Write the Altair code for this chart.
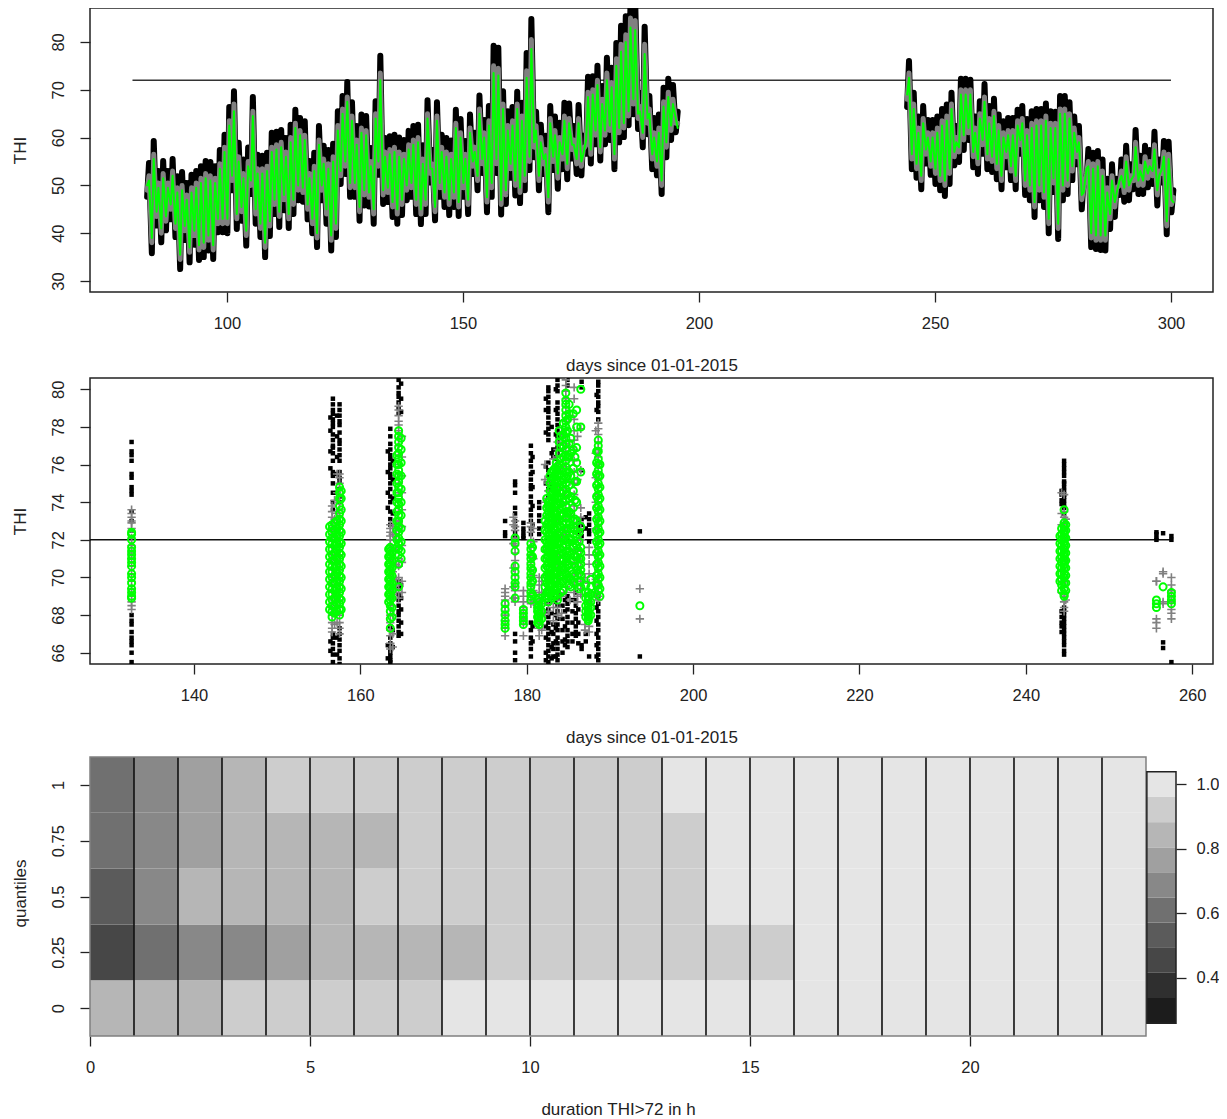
import altair as alt
import pandas as pd

FONT = "Liberation Sans"
INK = "#222222"
GREEN = "#00ff00"
GREY = "#808080"
THRESHOLD = 72

# ---------- panel 1: daily lows and highs ----------
days_a = list(range(83, 196))
days_b = list(range(244, 301))

black_hi_a = [54.7,59.3,53,55.1,53,55.5,51.9,52.8,50.5,52.2,
              53,54,55.1,54.9,54,57.4,60.6,66.4,69.7,58.9,
              55.4,57.9,68.5,56.4,56.2,56.8,61,61.2,61.6,59.9,
              62.7,65.8,64.1,63.4,55.1,56.8,62.4,58.3,57.4,58.7,
              65.5,68.7,71.6,67.4,62.4,64.8,64.5,57.8,67.6,77.1,
              59.9,60.3,60.6,60,59.5,61.4,62.4,62.7,58.4,67.8,
              57.4,67.4,60.6,59.9,59.4,65.8,63.9,59.3,64.8,61,
              68.8,63.7,66.6,79.2,78.8,69.7,65.5,66.4,69.6,67.3,
              77.7,84.8,65.4,62.7,60.4,66.6,64.4,63.1,67.3,67.1,
              62.4,66.8,60.4,72.7,72.8,75,70.8,76.7,74.6,79.8,
              83.4,85.4,88.4,88.4,69.4,83.2,68.7,64.1,64.8,70.4,
              72.3,71,65.4]
black_lo_a = [47.6,35.8,41.6,38.1,40.6,42.9,39.2,32.5,38.6,33.9,
              37.6,34.4,35,36.4,34.6,40.2,40.2,40,49,40.9,
              42.6,37.4,48.2,42,39.2,35,39.4,44,41.3,44.8,
              41.1,44,46.9,46.6,42.9,40,37.1,46.9,42,36.4,
              39.2,50.3,52.4,47.6,47.6,42.6,45.8,45.6,42,52.2,
              46.1,46.5,43.4,42,43.8,46.9,47.6,44,41.9,44,
              50.6,42.7,47.6,45.5,43.8,45.5,43.6,47.6,44,52.4,
              49,52.6,44.4,47.6,52.6,43.9,46.1,51.6,47.9,46.3,
              49,53.2,55.9,49,52.4,44.4,53.2,49.3,53.4,51.3,
              55.6,52.4,52.1,56.6,54.6,58.6,55.2,58.6,59.5,53.4,
              59,60.1,62.6,64.9,61.8,58,60.7,53.4,52.1,48.2,
              55.9,59.5,61.1]
grey_hi_a = [52,56.5,50.5,52.5,50.5,53,49.5,50,48,49.5,
             50.5,51.5,52.5,52,51.5,54.5,58,63.5,67,56,
             52.5,55,65.5,53.5,53.5,54,58,58.5,59,57,
             60,63,61.5,60.5,52.5,54,59.5,55.5,54.5,56,
             62.5,66,68.5,64.5,59.5,62,61.5,55,65,73.5,
             57,57.5,58,57,56.5,58.5,59.5,60,55.5,65,
             54.5,64.5,58,57,56.5,63,61,56.5,62,58,
             66,61,63.5,75,74.5,67,62.5,63.5,67,64.5,
             74,80.5,62.5,60,57.5,64,61.5,60,64.5,64,
             59.5,64,57.5,69.5,70,72,68,73.5,71.5,76.5,
             79.5,81.5,85,84.5,66.5,79.5,66,61,62,67.5,
             69.5,68,63]
grey_lo_a = [49,38,43.5,40,42.5,45,41,34.5,40.5,36,
             39.5,36.5,37,38.5,36.5,42,42,42,51,43,
             44.5,39.5,50,44,41,37,41.5,46,43.5,47,
             43,46,49,48.5,45,42,39,49,44,38.5,
             41,52,54,49.5,49.5,44.5,48,47.5,44,54,
             48,48.5,45.5,44,46,49,49.5,46,44,46,
             52.5,44.5,49.5,47.5,46,47.5,45.5,49.5,46,54,
             51,54.5,46.5,49.5,54.5,46,48,53.5,50,48.5,
             51,55,58,51,54.5,46.5,55,51.5,55.5,53.5,
             57.5,54.5,54,58.5,56.5,60.5,57,60.5,61.5,55.5,
             61,62,64.5,67,64,60,63,55.5,54,50,
             58,61.5,63]
green_hi_a = [51,55.5,49.5,51.5,49.5,52,48.5,49,47,48.5,
              49.5,50.5,51.5,51,50.5,53.5,57,62.5,65.5,55,
              51.5,54,64.5,52.5,52.5,53,57,57.5,58,56,
              59,62,60.5,59.5,51.5,53,58.5,54.5,53.5,55,
              61.5,65,67.5,63.5,58.5,61,60.5,54,64,72,
              56,56.5,57,56,55.5,57.5,58.5,59,54.5,64,
              53.5,63.5,57,56,55.5,62,60,55.5,61,57,
              65,60,62.5,73.5,73,66,61.5,62.5,66,63.5,
              72.5,78.5,61.5,59,56.5,63,60.5,59,63.5,63,
              58.5,63,56.5,68.5,69,71,67,72,70.5,75,
              78,80,83,82.5,65.5,77.5,65,60,61,66.5,
              68.5,67,62]
green_lo_a = [50,39,44.5,41,43.5,46,42,35.5,41.5,37,
              40.5,37.5,38,39.5,37.5,43,43,43,52,44,
              45.5,40.5,51,45,42,38,42.5,47,44.5,48,
              44,47,50,49.5,46,43,40,50,45,39.5,
              42,53,55,50.5,50.5,45.5,49,48.5,45,55,
              49,49.5,46.5,45,47,50,50.5,47,45,47,
              53.5,45.5,50.5,48.5,47,48.5,46.5,50.5,47,55,
              52,55.5,47.5,50.5,55.5,47,49,54.5,51,49.5,
              52,56,59,52,55.5,47.5,56,52.5,56.5,54.5,
              58.5,55.5,55,59.5,57.5,61.5,58,61.5,62.5,56.5,
              62,63,65.5,68,65,61,64,56.5,55,51,
              59,62.5,64]

black_hi_b = [76,69.4,64.4,66.6,63.7,63.7,64.4,66,66.9,69.4,
              62.4,72.3,72.3,72.1,64.4,67.6,71.2,66.6,68.1,64.8,
              63.4,64.1,64.1,65.8,66.6,63.9,65.5,66,66,67.1,
              65.5,65.4,68.7,68.7,67.4,64.4,62.4,51.4,57.6,56.8,
              57.2,55.4,51.4,54.4,51.4,55.4,58.3,54.4,61.6,56.2,
              58.3,57.4,61.2,55.4,59.3,59.1,49]
black_lo_b = [66.4,53.4,51.6,49.2,54.6,52.2,50.3,49,47.8,50.3,
              54.2,54.9,57.4,59.5,53.8,52.4,56.6,53.4,52.8,51.3,
              49.2,53.8,51.1,49.2,56.6,48,46.9,43.4,46.9,45.5,
              40,48.6,38.8,46.9,48.2,51.1,54.4,45,50.6,37.1,
              36.7,36.5,36.4,40.9,43.4,48,46.6,46.9,49.2,48.2,
              48.2,49.6,50.3,45.8,50.6,39.8,44.4]
grey_hi_b = [73.5,67,62,64,61,61,62,63.5,64.5,67,
             60,70,70,70,62,65,68.5,64,65.5,62.5,
             61,61.5,61.5,63.5,64,61.5,63,63.5,63.5,64.5,
             63,63,66,66,65,62,60,49.5,55,54.5,
             55,53,49.5,52,49.5,53,56,52,59,54,
             56,55,58.5,53,57,56.5,47.5]
grey_lo_b = [68,55.5,53.5,51,56.5,54,52.5,51,50,52.5,
             56,57,59.5,61,56,54.5,58.5,55.5,55,53.5,
             51,56,53,51,58.5,50,49,45.5,49,47.5,
             42,50.5,41,49,50,53,56,47,52.5,39,
             38.5,38.5,38.5,43,45.5,50,48.5,49,51,50,
             50,51.5,52,48,52.5,41.5,46]
green_hi_b = [72.5,66,61,63,60,60,61,62.5,63.5,66,
              59,69,69,69,61,64,67.5,63,64.5,61.5,
              60,60.5,60.5,62.5,63,60.5,62,62.5,62.5,63.5,
              62,62,65,65,64,61,59,48.5,54,53.5,
              54,52,48.5,51,48.5,52,55,51,58,53,
              55,54,57.5,52,56,55.5,46.5]
green_lo_b = [69,56.5,54.5,52,57.5,55,53.5,52,51,53.5,
              57,58,60.5,62,57,55.5,59.5,56.5,56,54.5,
              52,57,54,52,59.5,51,50,46.5,50,48.5,
              43,51.5,42,50,51,54,57,48,53.5,40,
              39.5,39.5,39.5,44,46.5,51,49.5,50,52,51,
              51,52.5,53,49,53.5,42.5,47]

# ---------- panel 2: hours around the threshold ----------
black_days = [132.5,156.7,157.5,163.6,164.6,177.4,178.6,179.6,180.5,181.5,182.6,183.2,183.7,184.3,
              184.9,185.9,186.6,187.5,188.6,193.6,244.3,244.6,255.7,256.5,257.5,
              156.4,157.2,163.3,163.9,164.9,180.7,182.3,183,183.5,184.6,185.5,186.2,187.1,188.4]
black_vals = [
 [77.2,76.7,76.5,76.2,75.5,75.3,74.8,74.6,74.4,73.5,73,72.5,68,67.7,67.5,67.1,66.8,66.6,66.4,66,65.5],
 [79.5,79.2,78.9,78.7,78.4,78.2,78,77.6,77.3,77,76.9,76.6,76.2,75.6,75.4,75,74.5,74,73.6,67,66.8,66.5,66.2,65.9,65.5],
 [79.2,78.9,78.6,78.3,78.1,77.7,77.3,77.1,76.8,76.5,76.2,75.6,75.3,75.1,74.7,74.3,74,67.3,67,66.7,66.4,66.1,65.7,65.4],
 [77.9,77.5,77.1,76.8,76.5,76.3,76,75.8,75.5,75.3,75,74.7,74.3,74,73.5,73.1,72.8,67.4,66.8,66.5,66.2,66,65.8,65.6,65.5],
 [80.5,80.1,79.8,79.6,79.3,79,78.7,69.8,69.4,69.1,68.8,68.5,68.2,68,67.7,67.4,67.1,66.9],
 [73,72.4,72.2],
 [75.1,74.9,74.5,73.7,73.4,73,72.7,72.4,72.2,67,66.6,66,65.6],
 [72.9,72.6,72.4,72.2,72.1],
 [77,76.6,76.2,75.9,75.5,75.2,74.9,74.7,74.3,74,73.6,73.3,73,72.6,72.3,67.6,67.2,66.8,66.5,66.2,65.8],
 [74,73.7,73.3,73,72.6,72.3],
 [80.1,79.9,79.6,79.3,79,78.8,78.5,78.2,77.9,77.6,77.3,76.1,75.7,75.4,75,74.7,74.3,68.6,68.3,67.9,67.6,67.3,67,66.7,66.4,66.1,65.8,65.5],
 [76.8,76.4,67.5,67,66.5,66.2,65.8],
 [80.5,80.2,79.9,79.3,79,78.7,78.4,78.1,77.8,77.5,77.2,76.9,76.6,69.2,68.9,68.5,68.2,67.8,67.5,67.2,66.8,66.5,66.2,65.9,65.6],
 [68.5,67.8,67.2,66.6,66],
 [80.5,80.2,69,68.6,68.3,67.9,67.6,67.2,66.9,66.6,66.3],
 [69.2,68.8,68.5,68.1,67.8,67.4,67.1,66.9],
 [80.4,80.1,75.7,73.1,72.8,72.5,72.2,66.4,66.2],
 [73.4,73.1,72.8,72.5,72.3,71.9,65.8],
 [80.4,80.2,79.9,79.6,79.3,79.1,78.8,78.4,69,68.6,68.2,67.9,67.5,67.2,66.8,66.5,66.2,65.9,65.6],
 [72.45,65.8],
 [74.6,74.4,74.1,73.9,68.2,67.9,67.6,67.4,67.1],
 [76.2,76,75.8,75.6,75.4,75.1,75,74.8,74.6,74.4,74.3,74.1,73.9,73.7,73.4,68.4,68.2,68,67.8,67.6,67.4,67.2,67,66.8,66.6,66.4,66.1,65.9],
 [72.4,72.3,72.1,72],
 [72.35,66.55,66.25],
 [72.2,72,65.5],
 [78.5,77.8,76.7,75.8,66.6,66.1],
 [78.6,77.5,76.4,75.5,74.5,66.8,65.9],
 [76.7,75.6,74.5,73.7,66.4,65.7],
 [76.2,75.2,74.2,73.4,67.2,66.3],
 [80.3,79.5,78.8,69.6,68.9,68.3,67.6,67],
 [76.4,75.6,74.8,73.8,72.8,67.4,66.6],
 [79.5,78.9,77.7,75.9,75,68.2,67.4,66.8,66,65.6],
 [78,76.6,74.9,68.9,68.1,67.1,66.3,65.7],
 [80,78.9,77.6,76.3,68.7,68,67.3,66.6,65.8],
 [68.8,68.2,67.4,66.7,66.4],
 [68.8,68.2,67.6,67,66.6],
 [73,72.7,72.4,68.3,67.6,67,66.5],
 [73.2,72.6,67,66.6],
 [79.7,78.9,68.4,67.7,67,66.4,65.8],
]
grey_days = [132.5,156.6,157.5,163.6,164.6,177.4,178.6,179.6,180.5,181.5,182.6,183.7,184.7,185.7,186.5,187.5,188.6,193.6,
             244.3,244.6,255.7,256.5,257.5,
             156.9,157.2,163.9,164.3,165,178.4,180.8,181.8,182.2,183.2,184.2,185.2,186.1,187,188.3,244.8]
grey_vals = [
 [73.6,73.4,73.2,73,72.9,72.6,72.1,71.7,71.3,71,70.6,70.2,69.8,69.4,69,68.7,68.5,68.3],
 [73.8,73.5,73.2,72.9,72.6,72.3,72,71.6,71.2,70.8,70.4,70,69.6,69.2,68.8,68.4,68,67.6,67.3,67.1],
 [75.5,75.3,75,74.7,74.3,74,73.6,73.2,72.8,72.4,72,71.6,71.2,70.8,70.4,70,69.6,69.2,68.8,68.4,68,67.6,67.3,67],
 [72.8,72.6,72.4,72.2,72,71.7,71.3,70.9,70.5,70.1,69.7,69.3,68.9,68.5,68,67.6,67.2,66.9,66.5,66.2],
 [79.1,78.9,78.6,78.3,78.1,77.8,77.4,77,76.5,76,75.5,75,74.5,74,73.5,73,72.5,72,71.6,71,70.6,70,69.6,69.2,68.9],
 [69.4,69.2,69,68.8,68.5,68.2,68,67.7,67.3,66.9],
 [73,72.7,72.5,72.1,71.7,71.3,70.9,70.5,70.1,69.7,69.3,68.9,68.7],
 [69.3,69,68.7,68.4,68.1,67.8,67.5,66.9],
 [72.9,72.7,72.4,72,71.6,71.2,70.8,70.4,70,69.6,69.2,68.8,68.6],
 [70,69.6,69.2,68.8,68.4,68,67.6,67.3,66.9],
 [75,74.6,74.2,73.8,73.4,73,72.6,72.2,71.8,71.4,71,70.6,70.2,69.8,69.4,69,68.6,68.2],
 [77.2,76.8,76.4,76,75.6,75.2,74.8,74.4,74,73.6,73.2,72.8,72.4,72,71.6,71.2,70.8,70.4,70,69.6,69.2,68.8,68.4,68],
 [80.5,80.2,79.9,79.5,79.1,78.7,78.3,77.9,77.5,77.1,76.7,76.3,75.9,75.5,75.1,74.7,74.3,73.9,73.5,73.1,72.7,72.3,71.9,71.5,71.1,70.7,70.3,69.9,69.5,69.2],
 [80.1,79.5,78.4,77.8,77.3,76.8,76.2,75.6,75,74.4,73.8,73.2,72.6,72,71.4,70.8,70.2,69.6,69.2],
 [77.9,75.7,73.7,73.2,72.6,72,71.4,70.8,70.2,69.8,69.4,69.1],
 [71.6,71.2,70.7,70.2,69.7,69.2,68.7,68.2,67.8,67.4,67.1],
 [78.2,77.9,77.6,77.2,76.8,76.4,76,75.6,75.2,74.8,74.4,74,73.6,73.2,72.8,72.4,72,71.6,71.2,70.8,70.4,70,69.6,69.2,69,68.8],
 [69.4,67.8],
 [74.5,73.4,72.8,72.2,71.6,71,70.4,69.8,69.2],
 [74.4,73.5,73.2,72.9,72.5,72,71.5,71,70.5,70,69.5,69,68.7,68.4,68.2],
 [69.8,69.8,67.8,67.6,67.3],
 [70.3,70.2,68.7,68.6],
 [70,69.6,69.3,69,68.7,68.3,68.1,67.8],
 [74.1,73.1,72.2,71,70,69,68.2,67.5],
 [75.5,74.5,73.4,71.9,70.7,69.6,68.5,67.6],
 [72.7,72.3,71.5,70.3,69.1,68,67,66.3],
 [73,72.8,72.5,72.2,72,71.5,70.7,69.9,69.4],
 [77.5,76.4,75.4,74.5,73.6,72.7,71.7,70.8,69.8,69.2],
 [73.2,72.8,71.8,70.5,69.5,68.9],
 [72.6,71.9,71,70.1,69.3,68.7],
 [69.8,69.2,68.6,68,67.5,67.2],
 [76,75.2,74,72.7,71.4,70.1,69,68.1],
 [76.3,74.6,73,71.4,69.8,68.4,67.7],
 [77.7,75.8,74,72.2,70.4,69,68.1],
 [78.6,76.9,75.1,73.3,71.5,69.8,68.8],
 [77.5,75.2,72.9,71,69.6,69,68.7],
 [70,69,68,67.5,67.2],
 [77.8,76.6,75.3,74,72.6,71.2,69.9,69],
 [73.1,72.1,70.9,69.8,68.8],
]
green_days = [132.5,156.6,157.5,163.6,164.6,177.4,178.6,179.6,180.5,181.5,182.6,183,183.4,183.7,184.1,184.7,185.1,185.6,
              186,186.5,187.4,188.6,193.6,244.3,244.6,255.7,256.5,257.5,
              156.3,156.9,157.2,157.7,163.4,163.8,164.4,164.9,180.7,181.3,181.8,182.2,182.4,182.8,183.2,183.55,183.9,184.4,
              184.9,185.3,185.8,186.3,187.1,187.7,188.4,188.8,244.1,244.8]
green_vals = [
 [72.4,72.3,72,71.6,71.4,71.2,71,70.8,70.6,70.2,70,69.7,69.4,69.2,69,68.9],
 [72.8,72.6,72.4,72.1,71.8,71.5,71.2,70.9,70.6,70.3,70,69.7,69.4,69.1,68.8,68.5,68.2,67.9],
 [74.8,74.5,74.2,73.8,73.4,73.1,72.8,72.5,72.2,71.9,71.6,71.3,71,70.7,70.4,70.1,69.8,69.5,69.2,68.9,68.6,68.3,68],
 [71.6,71.4,71.2,71,70.8,70.6,70.4,70.2,70,69.8,69.6,69.4,69.2,69,68.8,68.5,68.2,67.8,67.3],
 [77.8,77.5,77.2,76.9,76.6,76.3,76,75.7,75.4,75.1,74.8,74.5,74.2,73.9,73.6,73.3,73,72.7,72.4,72.1,71.8,71.5,71.2,70.7,69.5],
 [68.6,68.3,68,67.7,67.5,67.3],
 [72.1,71.8,71.4,70.6,70.3,70,69.7,69.5,68.9],
 [68.3,68.1,67.9,67.7,67.5],
 [71.8,71.5,71.2,71,70.7,70.5,70.2,70,69.7,69.5,69.2,69,68.8],
 [68.9,68.7,68.5,68.3,68.1,67.9,67.7,67.5],
 [74,73.8,73.5,73.2,72.9,72.6,72.3,72,71.7,71.4,71.1,70.8,70.5,70.2,69.9,69.6,69.3,69,68.7],
 [75.6,75.2,74.8,74.4,74,73.6,73.2,72.8,72.4,72,71.6,71.2,70.8,70.4,70,69.6,69.2,68.9],
 [75.8,75.4,75,74.6,74.2,73.8,73.4,73,72.6,72.2,71.8,71.4,71,70.6,70.2,69.8,69.4,69],
 [75.9,75.5,75.1,74.7,74.3,73.9,73.5,73.1,72.7,72.3,71.9,71.5,71.1,70.7,70.3,69.9,69.5,69.1,68.8],
 [77.5,76.9,76.3,75.7,75.1,74.5,73.9,73.3,72.7,72.1,71.5,70.9,70.3,69.7,69.2],
 [79.8,79.4,79.2,78.9,78.6,78.3,78,77.7,77.4,77.1,76.8,76.5,76.2,75.9,75.6,75.3,75,74.7,74.4,74.1,73.8,73.5,73.2,72.9,72.6,72.3,72,71.7,71.4,71.1,70.8,70.5,70.2,69.9],
 [79.2,78.7,77.1,76.4,75.6,74.9,74.2,73.5,72.8,72.1,71.4,70.7,70,69.6],
 [78.7,76.8,75.8,74.6,73.7,73,72.3,71.6,70.9,70.2,69.7],
 [78.9,78,76.9,76.1,75.1,74,73,72.3,71.7,71.1,70.4],
 [80,78,75.6,72.7,71.6,71.3,71,70.7,70.4,70.1,69.8,69.5],
 [69.2,69,68.8,68.6,68.4,68.2,68.1,68,67.9,67.8,67.7],
 [77.3,77,76.7,76.3,76,75.7,75.4,75,74.7,74.4,74.1,73.8,73.5,73.2,72.9,72.6,72.3,72,71.7,71.4,71.1,70.8,70.5,70.2,69.9,69.6,69.3],
 [68.5],
 [72.6,72.3,72,71.7,71.4,71.1,70.8,70.5,70.2,69.9,69.6,69.3],
 [73.6,72.9,72.7,72.5,72.3,72.1,71.9,71.7,71.5,71.3,71.1,70.9,70.7,70.5,70.2,70,69.7,69.4,69.1,69],
 [68.8,68.6,68.4],
 [69.5],
 [69.2,69,68.8,68.6],
 [72.7,72.3,71.9,71.5,71.1,70.7,70.3,69.9,69.5,69.1,68.7,68.3],
 [72.9,72.5,72.1,71.7,71.3,70.9,70.5,70.1,69.7,69.3,68.9,68.5,68.1],
 [73,72.6,72.2,71.8,71.4,71,70.6,70.2,69.8,69.4,69,68.6,68.2],
 [74.6,74.2,73.6,73,72.4,71.8,71.2,70.6,70,69.4,68.8,68.3],
 [71.5,71.1,70.7,70.3,69.9,69.5,69.1,68.7],
 [71.3,70.9,70.5,70.1,69.7,69.3,68.9,68.4,67.9],
 [76.5,76,75.5,75,74.5,74,73.5,73,72.5,72,71.6],
 [77.4,76.8,76.1,75.4,74.7,74,73.3,72.6,71.9,71.4,71],
 [71.6,71.1,70.4,69.8,69.1],
 [68.8,68.4,68.2,67.9,67.6],
 [68.6,68.2,67.8],
 [73,72.5,72,71.5,71,70.5,70,69.5,69],
 [74.2,73.7,73.3,72.8,72.4,71.9,71.5,71,70.6,70.1,69.7,69.2,68.9],
 [75.4,75,74.6,74.1,73.7,73.2,72.8,72.3,71.9,71.4,71,70.5,70.1,69.6,69.2],
 [75.7,75.3,74.9,74.5,74,73.5,73.1,72.6,72.1,71.7,71.2,70.8,70.3,69.9,69.4,69.1],
 [76.1,75.6,75.2,74.8,74.4,73.9,73.4,73,72.5,72,71.6,71.2,70.7,70.2,69.8,69.3],
 [77.8,77.2,76.6,76,75.4,74.8,74.2,73.6,73,72.4,71.8,71.2,70.6,70.1,69.6],
 [78.2,77.6,77,76.4,75.8,75.2,74.6,74,73.4,72.8,72.2,71.6,71,70.4,69.8,69.3],
 [78.4,77.8,76.4,75.4,74.4,73.4,72.6,71.9,71.2,70.6,70],
 [77.4,76.6,75.4,74.3,73.4,72.6,72,71.2,70.4,69.9,69.5],
 [76.4,75.1,74.1,73.1,72.5,71.8,71.1,70.6,70.1],
 [72.4,71.9,71.4,71,70.6,70.2,69.8,69.4],
 [69.6,69.2,68.9,68.5,68.2,67.9],
 [69.9,69.5,69.1,68.7,68.4,68],
 [76.7,76.1,75.5,74.9,74.3,73.7,73.1,72.5,71.9,71.3,70.7,70.1,69.6,69.1],
 [76,75.4,74.8,74.2,73.6,73,72.4,71.8,71.2,70.6,70,69.4,69],
 [72.2,71.8,71.4,71,70.6,70.2,69.8],
 [72.8,72.5,72.1,71.7,71.3,70.9,70.5,70.1,69.7,69.3],
]

# ---------- panel 3: image matrix and colour key ----------
quantile_rows = [0, 0.25, 0.5, 0.75, 1]
hours = list(range(24))
row_q0    = [.85,.85,.85,.92,.92,.92,.92,.92,1,1,1,1,1,1,1,1,1,1,1,1,1,1,1,1]
row_q25   = [.455,.61,.69,.69,.77,.85,.85,.85,.85,.92,.92,.92,.92,.92,.92,.92,1,1,1,1,1,1,1,1]
row_q50   = [.53,.69,.85,.85,.85,.85,.92,.92,.92,.92,.92,.92,.92,.92,1,1,1,1,1,1,1,1,1,1]
row_q75   = [.61,.69,.77,.85,.85,.85,.85,.92,.92,.92,.92,.92,.92,.92,1,1,1,1,1,1,1,1,1,1]
row_q100  = [.61,.69,.77,.85,.92,.92,.92,.92,.92,.92,.92,.92,.92,1,1,1,1,1,1,1,1,1,1,1]
key_breaks = [0.338,0.416,0.493,0.571,0.649,0.727,0.804,0.882,0.960]
key_edges = [0.260,0.338,0.416,0.493,0.571,0.649,0.727,0.804,0.882,0.960,1.038]
key_colors = ["#1c1c1c","#2f2f2f","#474747","#5b5b5b","#707070","#888888","#a0a0a0","#b6b6b6","#cdcdcd","#e5e5e5"]


def zigzag(days, lo, hi, seg):
    rows = []
    for d, a, b in zip(days, lo, hi):
        rows.append({"d": d + 0.1, "v": a, "seg": seg})
        rows.append({"d": d + 0.5, "v": b, "seg": seg})
    return rows


def clusters(days, vals):
    return pd.DataFrame([{"d": d, "v": v} for d, vs in zip(days, vals) for v in vs])


def xaxis(values, title, **kw):
    return alt.Axis(values=values, title=title, grid=False, domain=False, tickSize=10, tickWidth=1.3,
                    tickColor=INK, labelColor=INK, labelFont=FONT, labelFontSize=16.5, labelPadding=13,
                    labelFlush=False, labelOverlap=False, format="d", titleFont=FONT, titleFontSize=17,
                    titleFontWeight="normal", titleColor=INK, titlePadding=26, **kw)


def yaxis(values, title, fmt="d"):
    return alt.Axis(values=values, title=title, grid=False, domain=False, tickSize=10, tickWidth=1.3,
                    tickColor=INK, labelColor=INK, labelFont=FONT, labelFontSize=16.5, labelPadding=22,
                    labelAngle=270, labelAlign="center", labelBaseline="middle", labelFlush=False,
                    labelOverlap=False, format=fmt, titleFont=FONT, titleFontSize=17, titleFontWeight="normal",
                    titleColor=INK, titlePadding=21)


FRAME = alt.ViewConfig(stroke="#222222", strokeWidth=1.5)

# --- panel 1
xs1 = alt.X("d:Q", scale=alt.Scale(domain=[71, 308.9], nice=False, zero=False),
            axis=xaxis([100, 150, 200, 250, 300], "days since 01-01-2015"))
ys1 = alt.Y("v:Q", scale=alt.Scale(domain=[27.7, 87.1], nice=False, zero=False),
            axis=yaxis([30, 40, 50, 60, 70, 80], "THI"))


def ts(lo_a, hi_a, lo_b, hi_b, color, width):
    df = pd.DataFrame(zigzag(days_a, lo_a, hi_a, "a") + zigzag(days_b, lo_b, hi_b, "b"))
    return alt.Chart(df).mark_line(color=color, strokeWidth=width, strokeJoin="round", strokeCap="round",
                                   clip=True).encode(x=xs1, y=ys1, detail="seg:N")


line1 = alt.Chart(pd.DataFrame({"d": [80], "d2": [300], "v": [THRESHOLD]})).mark_rule(
    color="#333333", strokeWidth=1.5).encode(x=xs1, x2="d2:Q", y=ys1)
p1 = alt.layer(
    line1,
    ts(black_lo_a, black_hi_a, black_lo_b, black_hi_b, "#000000", 6),
    ts(grey_lo_a, grey_hi_a, grey_lo_b, grey_hi_b, GREY, 5),
    ts(green_lo_a, green_hi_a, green_lo_b, green_hi_b, GREEN, 2),
).properties(width=1123, height=284, view=FRAME)

# --- panel 2
xs2 = alt.X("d:Q", scale=alt.Scale(domain=[127.5, 262.5], nice=False, zero=False),
            axis=xaxis([140, 160, 180, 200, 220, 240, 260], "days since 01-01-2015"))
ys2 = alt.Y("v:Q", scale=alt.Scale(domain=[65.4, 80.6], nice=False, zero=False),
            axis=yaxis([66, 68, 70, 72, 74, 76, 78, 80], "THI"))
line2 = alt.Chart(pd.DataFrame({"d": [127.5], "d2": [257.7], "v": [THRESHOLD]})).mark_rule(
    color="#111111", strokeWidth=1.5).encode(x=xs2, x2="d2:Q", y=ys2)
pts_black = alt.Chart(clusters(black_days, black_vals)).mark_square(color="#000000", size=20, opacity=1, clip=True).encode(x=xs2, y=ys2)
pts_grey = alt.Chart(clusters(grey_days, grey_vals)).mark_point(
    shape="M-1,0L1,0M0,-1L0,1", color=GREY, size=70, strokeWidth=1.6, opacity=1, clip=True).encode(x=xs2, y=ys2)
pts_green = alt.Chart(clusters(green_days, green_vals)).mark_point(
    shape="circle", color=GREEN, size=50, strokeWidth=2, opacity=1, filled=False, clip=True).encode(x=xs2, y=ys2)
p2 = alt.layer(line2, pts_black, pts_grey, pts_green).properties(width=1123, height=286, view=FRAME)

# --- panel 3, with its colour key on an own y scale beside the matrix
color_scale = alt.Scale(type="threshold", domain=key_breaks, range=key_colors)
matrix = pd.DataFrame([
    {"x": h, "x2": h + 1, "y": q - 0.125, "y2": q + 0.125, "val": r[h]}
    for q, r in zip(quantile_rows, [row_q0, row_q25, row_q50, row_q75, row_q100]) for h in hours
])
xs3 = alt.X("x:Q", scale=alt.Scale(domain=[0, 24.682], nice=False, zero=False),
            axis=xaxis([0, 5, 10, 15, 20], "duration THI>72 in h", titleX=528))
ys3 = alt.Y("y:Q", scale=alt.Scale(domain=[-0.125, 1.1564], nice=False, zero=False),
            axis=yaxis(quantile_rows, "quantiles", fmt=".2~f"))
cells = alt.Chart(matrix).mark_rect(strokeWidth=0).encode(
    x=xs3, x2="x2:Q", y=ys3, y2="y2:Q", color=alt.Color("val:Q", scale=color_scale, legend=None))
dividers = alt.Chart(pd.DataFrame({"x": hours[1:], "y": [-0.125] * 23, "y2": [1.125] * 23})).mark_rule(
    color="#111111", strokeWidth=1.6).encode(x=xs3, y=ys3, y2="y2:Q")
box = alt.Chart(pd.DataFrame({"x": [0], "x2": [24], "y": [-0.125], "y2": [1.125]})).mark_rect(
    fillOpacity=0, stroke="#808080", strokeWidth=1.5).encode(x=xs3, x2="x2:Q", y=ys3, y2="y2:Q")
matrix_layer = alt.layer(cells, dividers, box)

key = pd.DataFrame({"x": [24.02] * 10, "x2": [24.682] * 10, "y": key_edges[:-1], "y2": key_edges[1:],
                    "mid": [(a + b) / 2 for a, b in zip(key_edges[:-1], key_edges[1:])]})
ys4 = alt.Y("y:Q", scale=alt.Scale(domain=[0.2205, 1.1052], nice=False, zero=False),
            axis=alt.Axis(orient="right", values=[0.4, 0.6, 0.8, 1.0], format=".1f", title=None, grid=False,
                          domain=False, tickSize=10, tickWidth=1.3, tickColor=INK, labelColor=INK, labelFont=FONT,
                          labelFontSize=16.5, labelPadding=10, labelFlush=False, labelOverlap=False))
key_cells = alt.Chart(key).mark_rect(strokeWidth=0).encode(
    x=xs3, x2="x2:Q", y=ys4, y2="y2:Q", color=alt.Color("mid:Q", scale=color_scale, legend=None))
key_box = alt.Chart(pd.DataFrame({"x": [24.02], "x2": [24.682], "y": [key_edges[0]], "y2": [key_edges[-1]]})).mark_rect(
    fillOpacity=0, stroke="#222222", strokeWidth=1.5).encode(x=xs3, x2="x2:Q", y=ys4, y2="y2:Q")
key_layer = alt.layer(key_cells, key_box)

p3 = alt.layer(matrix_layer, key_layer).resolve_scale(y="independent").properties(
    width=1086, height=286, view=alt.ViewConfig(stroke=None))

chart = alt.vconcat(p1, p2, p3, spacing=86, bounds="flush").properties(
    padding={"left": 2, "top": -1, "right": 0, "bottom": 0}, background="white")

chart.save("out.html", embed_options={"renderer": "svg", "actions": False})
